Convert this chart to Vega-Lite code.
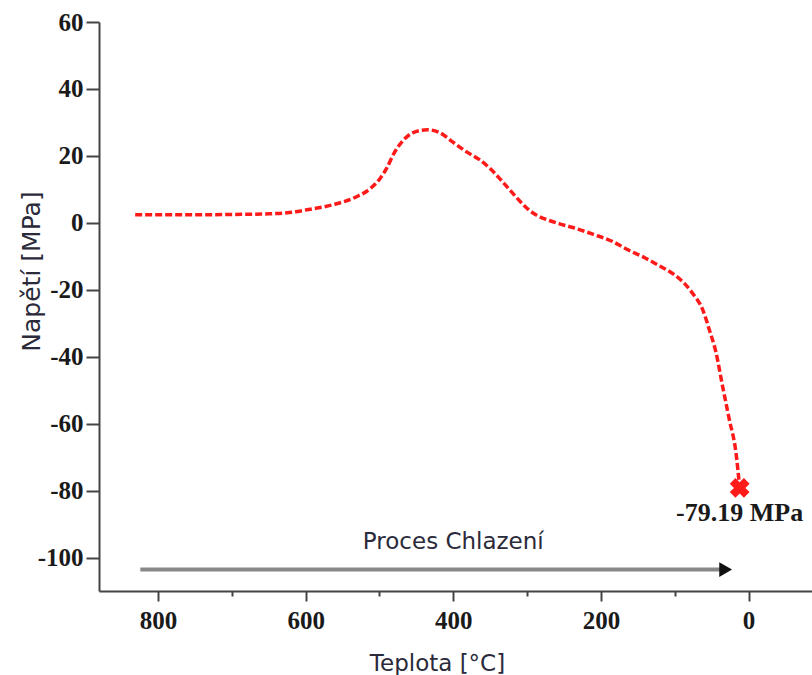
{
  "$schema": "https://vega.github.io/schema/vega-lite/v6.json",
  "width": 713,
  "height": 569,
  "autosize": {"type": "none"},
  "padding": {"left": 99, "top": 22, "right": 0, "bottom": 84},
  "background": "white",
  "config": {"view": {"stroke": null}},
  "datasets": {
    "curve": [
      {"t": 831, "s": 2.4}, {"t": 800, "s": 2.4}, {"t": 750, "s": 2.4}, {"t": 700, "s": 2.5},
      {"t": 650, "s": 2.7}, {"t": 625, "s": 3.0}, {"t": 598, "s": 3.9}, {"t": 563, "s": 5.4},
      {"t": 531, "s": 7.8}, {"t": 512, "s": 10.3}, {"t": 500, "s": 13.0}, {"t": 490, "s": 16.4},
      {"t": 480, "s": 20.9}, {"t": 468, "s": 24.6}, {"t": 455, "s": 26.9}, {"t": 435, "s": 27.8},
      {"t": 418, "s": 26.9}, {"t": 401, "s": 24.2}, {"t": 382, "s": 21.2}, {"t": 364, "s": 18.8},
      {"t": 351, "s": 16.4}, {"t": 333, "s": 12.2}, {"t": 314, "s": 7.5}, {"t": 301, "s": 4.5},
      {"t": 285, "s": 2.0}, {"t": 270, "s": 0.7}, {"t": 256, "s": -0.3}, {"t": 238, "s": -1.4},
      {"t": 211, "s": -3.4}, {"t": 184, "s": -5.6}, {"t": 165, "s": -7.9}, {"t": 140, "s": -10.5},
      {"t": 121, "s": -12.8}, {"t": 100, "s": -15.6}, {"t": 86, "s": -18.3}, {"t": 76, "s": -21},
      {"t": 62, "s": -26}, {"t": 53, "s": -32}, {"t": 44, "s": -38.8},
      {"t": 35, "s": -49}, {"t": 26, "s": -58.8}, {"t": 17, "s": -68.7}, {"t": 12, "s": -79.19}
    ],
    "endpoint": [{"t": 12, "s": -79.19, "label": "-79.19 MPa", "ly": -86.6}],
    "arrow": [{"t1": 824, "t2": 28, "s": -103.6, "head": 31}],
    "note": [{"t": 400, "s": -95.5, "label": "Proces Chlazení"}]
  },
  "encoding": {
    "x": {
      "type": "quantitative",
      "scale": {"domain": [-86, 880], "reverse": true, "nice": false, "zero": false}
    },
    "y": {
      "type": "quantitative",
      "scale": {"domain": [-110, 60], "nice": false, "zero": false}
    }
  },
  "layer": [
    {
      "mark": {"type": "rule", "color": "#444", "strokeWidth": 2},
      "encoding": {"y": {"datum": 60}}
    },
    {
      "mark": {"type": "rule", "color": "#aaaaaa", "strokeWidth": 2, "strokeDash": [6, 4]},
      "encoding": {"y": {"datum": 0}}
    },
    {
      "data": {"name": "curve"},
      "mark": {"type": "line", "color": "#ff1a1a", "strokeWidth": 3.5, "strokeDash": [7, 3], "interpolate": "monotone"},
      "encoding": {
        "x": {
          "field": "t",
          "type": "quantitative",
          "axis": {
            "values": [800, 700, 600, 500, 400, 300, 200, 100, 0],
            "title": "Teplota [°C]",
            "titleFont": "DejaVu Sans",
            "titleFontSize": 23,
            "titleFontWeight": "normal",
            "titleColor": "#2a2a3a",
            "titleX": 338,
            "titleY": 72,
            "titleBaseline": "middle",
            "titleAlign": "center",
            "domainColor": "#444",
            "domainWidth": 2,
            "tickColor": "#444",
            "tickWidth": 2,
            "tickSize": {"condition": {"test": "datum.value % 200 === 0", "value": 10}, "value": 5},
            "labelExpr": "datum.value % 200 === 0 ? '' + datum.value : ''",
            "labelFont": "Liberation Serif",
            "labelFontWeight": "bold",
            "labelFontSize": 25,
            "labelColor": "#1a1a1a",
            "labelPadding": 7,
            "labelDx": 6,
            "grid": false
          }
        },
        "y": {
          "field": "s",
          "type": "quantitative",
          "axis": {
            "values": [60, 50, 40, 30, 20, 10, 0, -10, -20, -30, -40, -50, -60, -70, -80, -90, -100],
            "title": "Napětí [MPa]",
            "titleFont": "DejaVu Sans",
            "titleFontSize": 25,
            "titleFontWeight": "normal",
            "titleColor": "#2a2a3a",
            "titleAngle": -90,
            "titleX": -68,
            "titleY": 249,
            "titleAlign": "center",
            "titleBaseline": "middle",
            "domainColor": "#444",
            "domainWidth": 2,
            "tickColor": "#444",
            "tickWidth": 2,
            "tickSize": {"condition": {"test": "datum.value % 20 === 0", "value": 13}, "value": 6},
            "labelExpr": "datum.value % 20 === 0 ? '' + datum.value : ''",
            "labelFont": "Liberation Serif",
            "labelFontWeight": "bold",
            "labelFontSize": 25,
            "labelColor": "#1a1a1a",
            "labelPadding": 3,
            "grid": false
          }
        }
      }
    },
    {
      "data": {"name": "endpoint"},
      "mark": {"type": "point", "shape": "cross", "angle": 45, "filled": true, "color": "#ff1a1a", "size": 400, "opacity": 1},
      "encoding": {
        "x": {"field": "t", "type": "quantitative"},
        "y": {"field": "s", "type": "quantitative"}
      }
    },
    {
      "data": {"name": "endpoint"},
      "mark": {"type": "text", "font": "Liberation Serif", "fontWeight": "bold", "fontSize": 26, "color": "#1a1a1a", "baseline": "middle", "align": "center"},
      "encoding": {
        "x": {"field": "t", "type": "quantitative"},
        "y": {"field": "ly", "type": "quantitative"},
        "text": {"field": "label"}
      }
    },
    {
      "data": {"name": "arrow"},
      "mark": {"type": "rule", "color": "#888888", "strokeWidth": 4},
      "encoding": {
        "x": {"field": "t1", "type": "quantitative"},
        "x2": {"field": "t2"},
        "y": {"field": "s", "type": "quantitative"}
      }
    },
    {
      "data": {"name": "arrow"},
      "mark": {"type": "point", "shape": "triangle-right", "filled": true, "color": "#111", "size": 220, "opacity": 1},
      "encoding": {
        "x": {"field": "head", "type": "quantitative"},
        "y": {"field": "s", "type": "quantitative"}
      }
    },
    {
      "data": {"name": "note"},
      "mark": {"type": "text", "font": "DejaVu Sans", "fontSize": 23, "color": "#2a2a3a", "baseline": "middle", "align": "center"},
      "encoding": {
        "x": {"field": "t", "type": "quantitative"},
        "y": {"field": "s", "type": "quantitative"},
        "text": {"field": "label"}
      }
    }
  ]
}
